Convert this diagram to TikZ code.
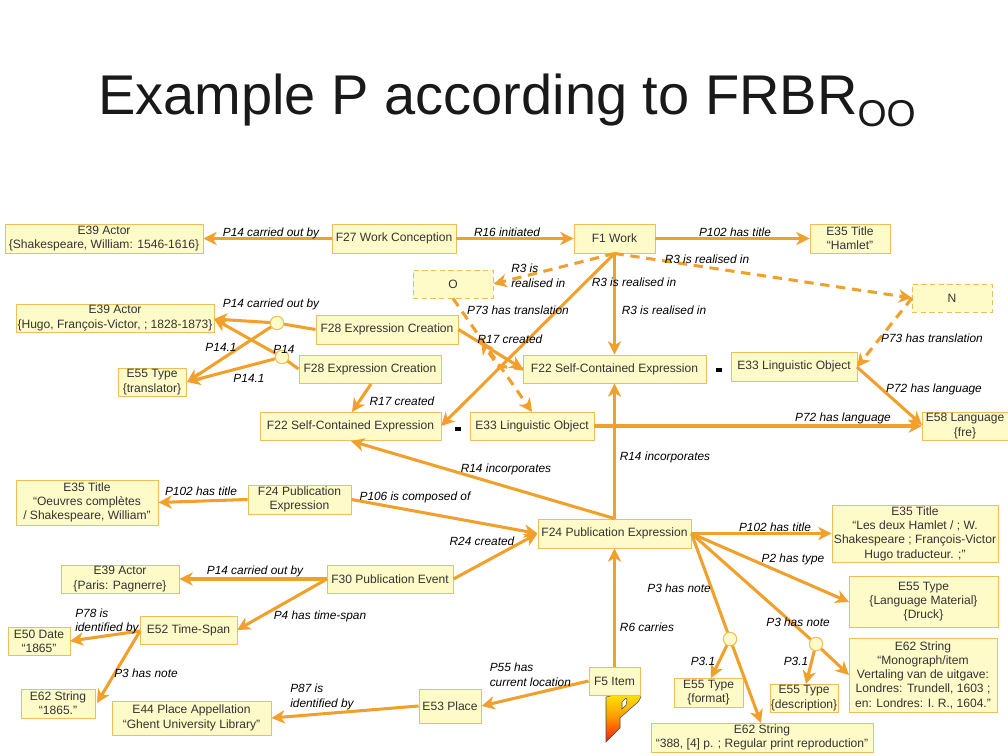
\documentclass[tikz,border=0pt]{standalone}
\usepackage{fontspec}
\setmainfont{Liberation Sans}
\usetikzlibrary{arrows.meta}
\definecolor{boxfill}{HTML}{FFFBC8}
\definecolor{boxline}{HTML}{EDBE5A}
\definecolor{arrowc}{HTML}{F2A02C}
\tikzset{
  cls/.style={draw=boxline,fill=boxfill,line width=0.7pt,align=center,inner sep=0pt,font=\fontsize{9.05}{10.7}\selectfont,text=black!80},
  dcls/.style={cls,dash pattern=on 4pt off 2.5pt},
  lnk/.style={draw=arrowc,line width=2.3pt,-{Stealth[length=10pt,width=10pt,inset=3pt]}},
  plain/.style={draw=arrowc,line width=2.3pt},
  dlnk/.style={lnk,dash pattern=on 7pt off 5pt},
  lab/.style={font=\fontsize{8.9}{10.9}\selectfont\itshape,inner sep=0pt,align=center,text=black},
  labl/.style={lab,align=left,anchor=west},
  knot/.style={circle,draw=boxline,fill=boxfill,line width=0.7pt,minimum size=10pt,inner sep=0pt},
  eqm/.style={fill=black,minimum width=4.5pt,minimum height=3pt,inner sep=0pt},
}
\newcommand{\bx}[7][cls]{\node[#1,minimum width=#4*0.75pt-#3*0.75pt,minimum height=#6*0.75pt-#5*0.75pt] (#2) at ({(#3+#4)/2},{(#5+#6)/2}) {#7};}
\begin{document}
\begin{tikzpicture}[x=0.75pt,y=-0.75pt]
\useasboundingbox (0,0) rectangle (1008,756);
\node[anchor=base west,inner sep=0pt,font=\fontsize{42}{50}\selectfont,text=black!90] (title) at (98,115) {Example P according to FRBR\raisebox{-9pt}{\fontsize{28}{28}\selectfont OO}};
% logo
\shade[top color=yellow!85!orange,bottom color=red!80!orange,middle color=orange!80!yellow,draw=black!70,line width=0.4pt,even odd rule]
 (606,697) -- (623,693) -- (639,692) -- (641,697) -- (638,702) -- (620,718) -- (620,728) -- (606,742) -- cycle
 (622,702) -- (626,698) -- (627,700) -- (626,705) -- (622,709) -- cycle;
% boxes
\bx{e39s}{5}{203}{224}{253}{E39 Actor\\\{Shakespeare, William: 1546-1616\}}
\bx{f27}{332}{456}{224}{253}{F27 Work Conception}
\bx{f1}{574}{655}{224}{253}{F1 Work}
\bx{e35h}{810}{890}{224}{253}{E35 Title\\“Hamlet”}
\bx[dcls]{o}{413}{493}{270}{298}{O}
\bx[dcls]{n}{912}{992}{284}{312}{N}
\bx{e39h}{16}{214}{304}{332}{E39 Actor\\\{Hugo, François-Victor, ; 1828-1873\}}
\bx{f28a}{316}{458}{315}{344}{F28 Expression Creation}
\bx{f28b}{299}{441}{355}{383}{F28 Expression Creation}
\bx{e55t}{118}{186}{368}{396}{E55 Type\\\{translator\}}
\bx{f22c}{523}{706}{355}{383}{F22 Self-Contained Expression}
\bx{e33r}{731}{857}{352}{381}{E33 Linguistic Object}
\bx{f22l}{260}{441}{412}{440}{F22 Self-Contained Expression}
\bx{e33l}{470}{594}{412}{440}{E33 Linguistic Object}
\bx{e58}{922}{1008}{412}{440}{E58 Language\\\{fre\}}
\bx{e35o}{16}{158}{480}{525}{E35 Title\\“Oeuvres complètes\\/ Shakespeare, William”}
\bx{f24l}{248}{351}{485}{514}{F24 Publication\\Expression}
\bx{f24p}{538}{691}{519}{548}{F24 Publication Expression}
\bx{e35l}{832}{998}{505}{562}{E35 Title\\“Les deux Hamlet / ; W.\\Shakespeare ; François-Victor\\Hugo traducteur. ;”}
\bx{e39p}{61}{179}{565}{593}{E39 Actor\\\{Paris: Pagnerre\}}
\bx{f30}{327}{453}{565}{593}{F30 Publication Event}
\bx{e55l}{849}{998}{576}{627}{E55 Type\\\{Language Material\}\\\{Druck\}}
\bx{e52}{140}{237}{616}{644}{E52 Time-Span}
\bx{e50}{8}{70}{627}{655}{E50 Date\\“1865”}
\bx{e62m}{849}{997}{638}{712}{E62 String\\“Monograph/item\\Vertaling van de uitgave:\\Londres: Trundell, 1603 ;\\en: Londres: I. R., 1604.”}
\bx{f5}{589}{640}{667}{695}{F5 Item}
\bx{e55f}{674}{743}{678}{707}{E55 Type\\\{format\}}
\bx{e55d}{770}{838}{684}{712}{E55 Type\\\{description\}}
\bx{e62s}{21}{95}{689}{718}{E62 String\\“1865.”}
\bx{e53}{419}{481}{689}{723}{E53 Place}
\bx{e44}{112}{271}{701}{735}{E44 Place Appellation\\“Ghent University Library”}
\bx{e62p}{651}{873}{723}{752}{E62 String\\“388, [4] p. ; Regular print reproduction”}
% knots
\node[knot] (k1) at (277,323) {};
\node[knot] (k2) at (282,357) {};
\node[knot] (k3) at (730,639) {};
\node[knot] (k4) at (816,644) {};
\node[eqm] (eq1) at (458,429) {};
\node[eqm] (eq2) at (719,370) {};
% connectors
\coordinate (f1s) at (f1.south);
\coordinate (nw) at (912,298);
\coordinate (e33re) at (857,367);
\coordinate (e33ln) at (532,412);
\coordinate (f22cw) at (523,369);
\coordinate (bend) at (498,366);
\coordinate (r17) at (481,341);
\coordinate (f22ls) at (351,441);
\coordinate (f30w) at (327,579);
\coordinate (e52w) at (140,631);
\coordinate (f24n) at (f24p.north);
\draw[lnk] (f27.west) -- (e39s.east);
\draw[lnk] (f27.east) -- (f1.west);
\draw[lnk] (f1.east) -- (e35h.west);
\draw[dlnk] (f1s) -- (o.east);
\draw[dlnk] (f1s) -- (nw);
\draw[lnk] (f1s) -- (f22c.north);
\draw[lnk] (f1s) -- (441,426);
\draw[dlnk] (o.south) -- (e33ln);
\draw[lnk] (f28a.east) -- (f22cw);
\draw[dlnk] (f22cw) -- (bend) -- (r17);
\draw[dlnk] (nw) -- (e33re);
\draw[lnk] (e33re) -- (922,425);
\draw[lnk] (e33l.east) -- (922,426);
\draw[lnk] (f24n) -- (f22c.south);
\draw[lnk] (f24n) -- (f22ls);
\draw[lnk] (f24l.west) -- (e35o.east);
\draw[lnk] (f24l.east) -- (f24p.west);
\draw[lnk] (f30.east) -- (f24p.west);
\draw[lnk] (f30w) -- (e39p.east);
\draw[lnk] (f30w) -- (237,630);
\draw[lnk] (e52w) -- (70,641);
\draw[lnk] (e52w) -- (97,703);
\draw[lnk] (e53.west) -- (e44.east);
\draw[lnk] (f5.west) -- (e53.east);
\draw[lnk] (f5.north) -- (f24p.south);
\draw[lnk] (f24p.east) -- (e35l.west);
\draw[lnk] (f24p.east) -- (849,602);
\draw[plain] (f24p.east) -- (k4);
\draw[lnk] (k4) -- (849,675);
\draw[lnk] (k4) -- (806,684);
\draw[plain] (f24p.east) -- (k3);
\draw[lnk] (k3) -- (711,678);
\draw[lnk] (k3) -- (761,723);
\draw[plain] (f28a.west) -- (k1);
\draw[lnk] (k1) -- (214,319);
\draw[lnk] (k1) -- (187,382);
\draw[plain] (f28b.west) -- (k2);
\draw[lnk] (k2) -- (214,319);
\draw[lnk] (k2) -- (187,382);
\draw[lnk] (371,384) -- (352,412);
\node[knot] at (k1) {};\node[knot] at (k2) {};\node[knot] at (k3) {};\node[knot] at (k4) {};
% labels
\node[lab] (l1) at (271,233) {P14 carried out by};
\node[lab] (l2) at (507,232) {R16 initiated};
\node[lab] (l3) at (735,232) {P102 has title};
\node[labl] (l4) at (511,275.5) {R3 is\\realised in};
\node[lab] (l5) at (707,259) {R3 is realised in};
\node[lab] (l6) at (634,282) {R3 is realised in};
\node[lab] (l7) at (664,310) {R3 is realised in};
\node[lab] (l8) at (271,304) {P14 carried out by};
\node[lab] (l9) at (221,347) {P14.1};
\node[lab] (l10) at (284,349) {P14};
\node[lab] (l11) at (249,378) {P14.1};
\node[lab] (l12) at (518,310) {P73 has translation};
\node[lab] (l13) at (510,339) {R17 created};
\node[lab] (l14) at (402,401) {R17 created};
\node[lab] (l15) at (932,338) {P73 has translation};
\node[lab] (l16) at (934,389) {P72 has language};
\node[lab] (l17) at (843,418) {P72 has language};
\node[lab] (l18) at (506,469) {R14 incorporates};
\node[lab] (l19) at (665,457) {R14 incorporates};
\node[lab] (l20) at (201,491) {P102 has title};
\node[lab] (l21) at (415,497) {P106 is composed of};
\node[lab] (l22) at (482,541) {R24 created};
\node[lab] (l23) at (255,571) {P14 carried out by};
\node[lab] (l24) at (320,616) {P4 has time-span};
\node[labl] (l25) at (75,621.5) {P78 is\\identified by};
\node[lab] (l26) at (146,673) {P3 has note};
\node[labl] (l27) at (290,697) {P87 is\\identified by};
\node[labl] (l28) at (489.5,674.5) {P55 has\\current location};
\node[lab] (l29) at (647,627) {R6 carries};
\node[lab] (l30) at (775,527) {P102 has title};
\node[lab] (l31) at (793,559) {P2 has type};
\node[lab] (l32) at (679,588) {P3 has note};
\node[lab] (l33) at (798,622) {P3 has note};
\node[lab] (l34) at (703,661) {P3.1};
\node[lab] (l35) at (796,661) {P3.1};
\end{tikzpicture}
\end{document}
